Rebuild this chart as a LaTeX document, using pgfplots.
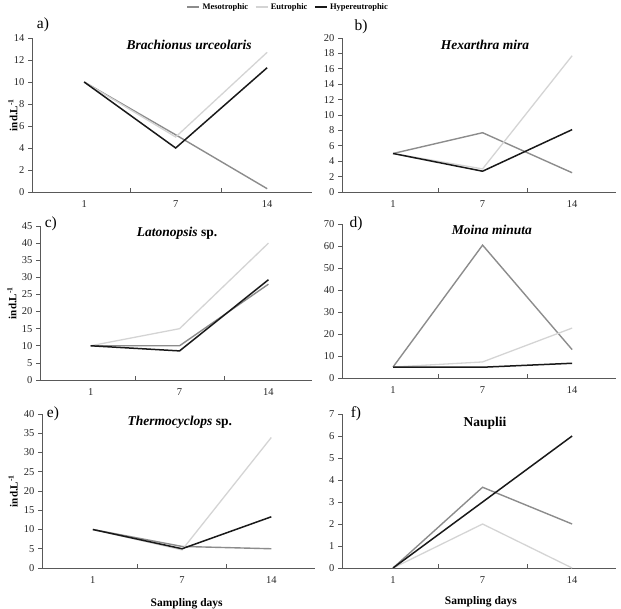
\documentclass[border=0pt]{standalone}
\usepackage{fontspec}
\setmainfont{Liberation Serif}
\usepackage{pgfplots}
\pgfplotsset{compat=1.18}
\definecolor{meso}{gray}{0.55}
\definecolor{eutro}{gray}{0.83}
\definecolor{hyper}{gray}{0.1}
\pgfplotsset{
  panel/.style={
    scale only axis, height=154pt,
    axis x line=bottom, axis y line=left,
    axis line style={-, draw=black!65, line width=0.6pt},
    xmin=-0.57, xmax=2.49, ymin=0,
    xtick={0.5,1.5}, xticklabels={},
    extra x ticks={0,1,2}, extra x tick labels={1,7,14},
    extra x tick style={tick style={draw=none}},
    xticklabel shift=5pt,
    xtick align=inside, ytick align=outside,
    major tick length=4pt,
    tick style={draw=black!65, line width=0.6pt},
    tick label style={font=\fontsize{10.5}{12}\selectfont, text=black!85},
    /pgf/number format/assume math mode=true,
    ylabel style={font=\fontsize{11}{13}\selectfont\bfseries, anchor=center},
    xlabel style={font=\fontsize{11.5}{13}\selectfont\bfseries, anchor=center},
    clip=false,
  },
  mes/.style={color=meso, line width=1.4pt, mark=none},
  eut/.style={color=eutro, line width=1.3pt, mark=none},
  hyp/.style={color=hyper, line width=1.5pt, mark=none},
}
\newcommand{\ttl}[3]{\node[font=\fontsize{13.5}{15}\selectfont\bfseries\itshape] at (axis description cs:#1,#2) {#3};}
\newcommand{\plab}[3]{\node[font=\fontsize{15.5}{17}\selectfont] at (axis description cs:#1,#2) {#3};}
\begin{document}
\begin{tikzpicture}[x=1pt,y=1pt]
\useasboundingbox (0,0) rectangle (621,608);
% a
\begin{axis}[panel, at={(32pt,416pt)}, anchor=south west, width=280pt,
  ymax=14, ytick={0,2,...,14},
  ylabel={ind.L\textsuperscript{-1}}, ylabel style={at={(axis description cs:-0.068,0.5)}},
  legend style={at={(0.914,1.247)}, anchor=north, draw=none, fill=none,
    legend columns=3, font=\fontsize{8.5}{10}\selectfont\bfseries,
    /tikz/every even column/.append style={column sep=4pt},
    inner sep=1pt},
  legend image code/.code={\draw[#1, line width=2.6pt] (0pt,0pt) -- (12pt,0pt);}]
\addplot[mes] coordinates {(0,10) (1,5.2) (2,0.3)};
\addplot[eut] coordinates {(0,10) (1,5) (2,12.7)};
\addplot[hyp] coordinates {(0,10) (1,4) (2,11.3)};
\legend{Mesotrophic,Eutrophic,Hypereutrophic}
\ttl{0.561}{0.955}{Brachionus urceolaris}
\plab{0.039}{1.084}{a)}
\end{axis}
% b
\begin{axis}[panel, at={(342pt,416pt)}, anchor=south west, width=274pt,
  ymax=20, ytick={0,2,...,20}]
\addplot[mes] coordinates {(0,5) (1,7.7) (2,2.5)};
\addplot[eut] coordinates {(0,5) (1,3) (2,17.7)};
\addplot[hyp] coordinates {(0,5) (1,2.7) (2,8.1)};
\ttl{0.522}{0.955}{Hexarthra mira}
\plab{0.07}{1.07}{b)}
\end{axis}
% c
\begin{axis}[panel, at={(40pt,228pt)}, anchor=south west, width=272pt,
  ymax=45, ytick={0,5,...,45},
  ylabel={ind.L\textsuperscript{-1}}, ylabel style={at={(axis description cs:-0.103,0.5)}}]
\addplot[mes] coordinates {(0,10) (1,10) (2,28)};
\addplot[eut] coordinates {(0,10) (1,15) (2,40)};
\addplot[hyp] coordinates {(0,10) (1,8.5) (2,29.3)};
\node[font=\fontsize{13.5}{15}\selectfont\bfseries] at (axis description cs:0.504,0.955) {\textit{Latonopsis} sp.};
\plab{0.04}{1.013}{c)}
\end{axis}
% d
\begin{axis}[panel, at={(342pt,230pt)}, anchor=south west, width=274pt,
  ymax=70, ytick={0,10,...,70}]
\addplot[mes] coordinates {(0,5) (1,60.4) (2,12.9)};
\addplot[eut] coordinates {(0,5) (1,7.3) (2,22.7)};
\addplot[hyp] coordinates {(0,4.9) (1,4.9) (2,6.7)};
\ttl{0.547}{0.961}{Moina minuta}
\plab{0.051}{1.0}{d)}
\end{axis}
% e
\begin{axis}[panel, at={(42pt,40pt)}, anchor=south west, width=273pt,
  ymax=40, ytick={0,5,...,40},
  ylabel={ind.L\textsuperscript{-1}}, ylabel style={at={(axis description cs:-0.106,0.5)}},
  xlabel={Sampling days}, xlabel style={at={(axis description cs:0.53,-0.235)}}]
\addplot[mes] coordinates {(0,10) (1,5.6) (2,5)};
\addplot[eut] coordinates {(0,10) (1,4.7) (2,33.9)};
\addplot[hyp] coordinates {(0,10) (1,5) (2,13.3)};
\node[font=\fontsize{13.5}{15}\selectfont\bfseries] at (axis description cs:0.505,0.948) {\textit{Thermocyclops} sp.};
\plab{0.04}{1.0}{e)}
\end{axis}
% f
\begin{axis}[panel, at={(342pt,40pt)}, anchor=south west, width=274pt,
  ymax=7, ytick={0,1,...,7},
  xlabel={Sampling days}, xlabel style={at={(axis description cs:0.507,-0.22)}}]
\addplot[mes] coordinates {(0,0) (1,3.67) (2,2)};
\addplot[eut] coordinates {(0,0) (1,2) (2,0)};
\addplot[hyp] coordinates {(0,0) (1,3) (2,6)};
\node[font=\fontsize{13.5}{15}\selectfont\bfseries] at (axis description cs:0.522,0.94) {Nauplii};
\plab{0.051}{1.0}{f)}
\end{axis}
\end{tikzpicture}
\end{document}
